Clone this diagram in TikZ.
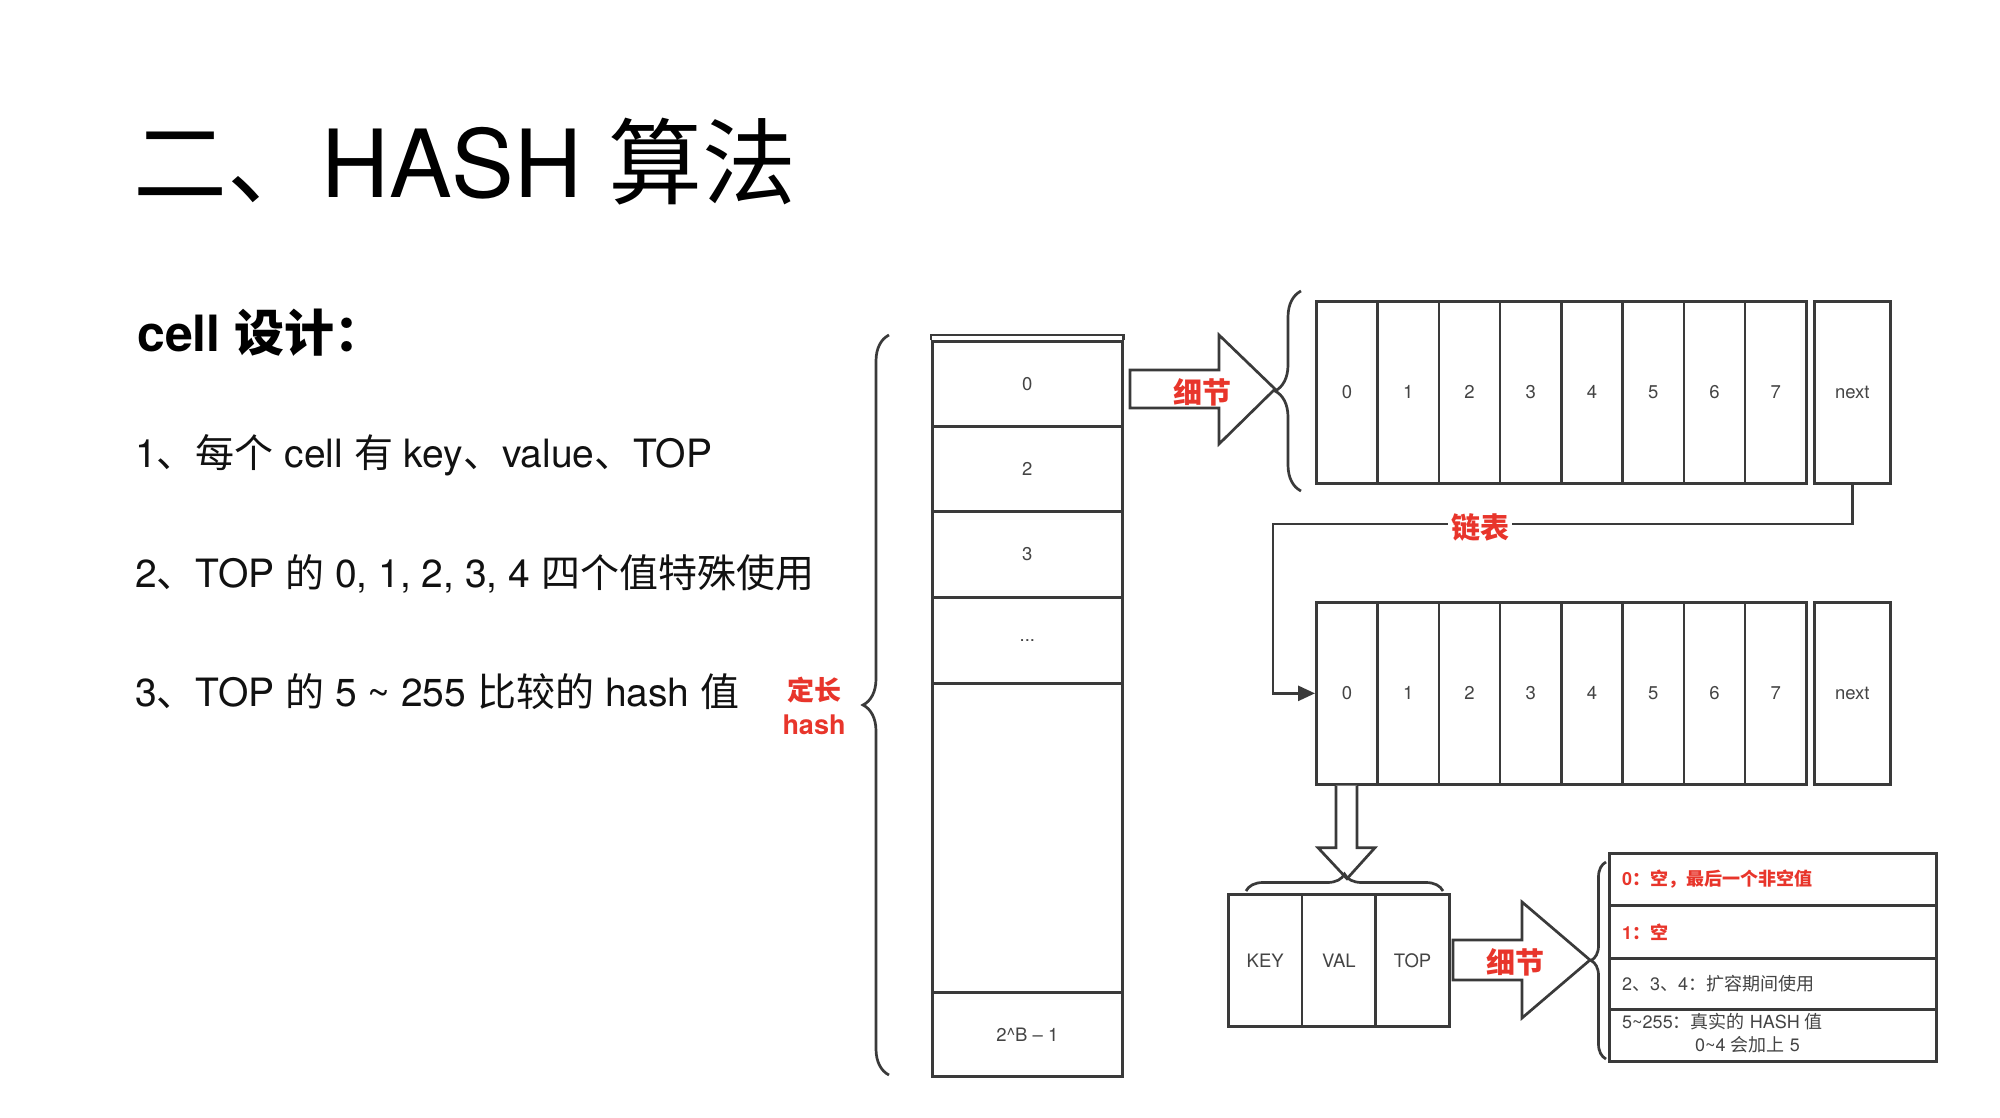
\documentclass[tikz,border=0pt]{standalone}
\usepackage{fontspec}
\setmainfont{TeX Gyre Heros}
\newfontfamily\cjk{Noto Sans CJK SC}
\usetikzlibrary{arrows.meta,decorations.pathreplacing,calc}
\definecolor{linec}{HTML}{3A3A3A}
\definecolor{txtc}{HTML}{444444}
\definecolor{redc}{HTML}{E8352B}
\definecolor{inkc}{HTML}{111111}
\newcommand\cellfont{\fontsize{18.5}{20}\selectfont}
\newcommand\lblfont{\fontsize{29}{32}\selectfont\bfseries\cjk}
\newcommand\rowfont{\fontsize{18}{22}\selectfont}

\begin{document}
\begin{tikzpicture}[x=1pt,y=-1pt,
  ln/.style={draw=linec,line width=2.7pt},
  boxcell/.style={ln,fill=white,anchor=north west,inner sep=0pt,
    minimum width=61.25pt,minimum height=182pt,text=txtc,font=\cellfont},
  colrow/.style={ln,fill=white,anchor=north west,inner sep=0pt,
    minimum width=190pt,text=txtc,font=\cellfont},
  kvcell/.style={ln,fill=white,anchor=north west,inner sep=0pt,
    minimum width=73.7pt,minimum height=132pt,text=txtc,font=\cellfont},
  tabrow/.style={ln,fill=white,anchor=north west,inner sep=0pt,
    minimum width=327pt},
  rowtxt/.style={anchor=west,inner sep=0pt,font=\rowfont,text=txtc},
  item/.style={anchor=west,inner sep=0pt,font=\fontsize{39}{43}\selectfont,text=inkc},
  fatarrow/.style={ln,fill=white,line join=miter},
  bracedeco/.style={draw=linec,line width=2.7pt,decorate},
  lbl/.style={text=redc,font=\lblfont,inner sep=3pt}
]
\fill[white] (0,0) rectangle (2000,1118);
\useasboundingbox (0,0) rectangle (2000,1118);

% heading and bullet text
\node[anchor=base west,inner sep=0pt,font=\fontsize{94}{100}\selectfont,text=black]
  (title) at (133,198) {{\cjk 二、}HASH {\cjk 算法}};
\node[anchor=base west,inner sep=0pt,font=\fontsize{50}{54}\selectfont\bfseries,text=black]
  (sub) at (137,351) {cell {\cjk 设计：}};
\node[item] (i1) at (135,455) {1{\cjk 、每个} cell {\cjk 有} key{\cjk 、}value{\cjk 、}TOP};
\node[item] (i2) at (135,574) {2{\cjk 、}TOP {\cjk 的} 0, 1, 2, 3, 4 {\cjk 四个值特殊使用}};
\node[item] (i3) at (135,692) {3{\cjk 、}TOP {\cjk 的} 5 \textasciitilde{} 255 {\cjk 比较的} hash {\cjk 值}};
\node[align=center,text=redc,font=\fontsize{27}{34}\selectfont\bfseries,inner sep=0pt]
  (fix) at (814,706) {{\cjk 定长}\\hash};

% bucket column
\node[colrow,minimum height=85pt] (r0) at (931,340) {0};
\node[colrow,minimum height=85pt] (r1) at (931,425) {2};
\node[colrow,minimum height=86pt] (r2) at (931,510) {3};
\node[colrow,minimum height=86pt] (r3) at (931,596) {...};
\node[colrow,minimum height=309pt] (r4) at (931,682) {};
\node[colrow,minimum height=84pt] (r5) at (931,991) {2\textasciicircum B – 1};
\draw[ln] (r0.north west) -- ++(0,-5) -- ($(r0.north east)+(0,-5)$) -- (r0.north east);
\draw[bracedeco,decoration={brace,amplitude=26pt}] (889,1075) -- (889,335);

% first bucket detail
\draw[fatarrow] (1130,370) -- (1219,370) -- (1219,335) -- (1275,389)
  -- (1219,444) -- (1219,408) -- (1130,408) -- cycle;
\node[lbl] (d1) at (1202,392) {细节};
\draw[bracedeco,decoration={brace,amplitude=26pt}] (1301,491) -- (1301,291);
\foreach \i in {0,...,7}
  \node[boxcell] (a\i) at ({1315+61.25*\i},300) {\i};
\node[boxcell,minimum width=76pt] (n1) at (1813,300) {next};

% chained bucket
\foreach \i in {0,...,7}
  \node[boxcell] (b\i) at ({1315+61.25*\i},601) {\i};
\node[boxcell,minimum width=76pt] (n2) at (1813,601) {next};
\coordinate (lk) at (1273,524);
\draw[ln,-{Triangle[length=17pt,width=15pt]}] (n1.south) |- (lk) |- (b0.west);
\node[lbl,fill=white] (chain) at (1480,527) {链表};

% slot expansion
\draw[fatarrow] ($(b0.south)+(-11,0)$) -- ++(0,62) -- ++(-18,0) -- ($(b0.south)+(0,93)$)
  -- ($(b0.south)+(28,62)$) -- ($(b0.south)+(10,62)$) -- ($(b0.south)+(10,0)$);
\draw[bracedeco,decoration={brace,amplitude=17pt}] (1246,891) -- (1443,891);
\node[kvcell] (kk) at (1227,893) {KEY};
\node[kvcell] (kv) at (1300.7,893) {VAL};
\node[kvcell] (kt) at (1374.4,893) {TOP};

% TOP value meanings
\draw[fatarrow] (1453,940) -- (1522,940) -- (1522,902) -- (1590,960)
  -- (1522,1018) -- (1522,980) -- (1453,980) -- cycle;
\node[lbl] (d2) at (1515,962) {细节};
\draw[bracedeco,decoration={brace,amplitude=15pt}] (1606,1059) -- (1606,862);
\node[tabrow,minimum height=52pt] (t0) at (1608,852) {};
\node[tabrow,minimum height=53pt] (t1) at (1608,904) {};
\node[tabrow,minimum height=51pt] (t2) at (1608,957) {};
\node[tabrow,minimum height=52pt] (t3) at (1608,1008) {};
\node[rowtxt,text=redc,font=\rowfont\bfseries] (v0) at ($(t0.west)+(14,0)$) {0{\cjk ：空，最后一个非空值}};
\node[rowtxt,text=redc,font=\rowfont\bfseries] (v1) at ($(t1.west)+(14,0)$) {1{\cjk ：空}};
\node[rowtxt] (v2) at ($(t2.west)+(14,0)$) {2{\cjk 、}3{\cjk 、}4{\cjk ：扩容期间使用}};
\node[rowtxt] (v3) at (1622,1022) {5\textasciitilde 255{\cjk ：真实的} HASH {\cjk 值}};
\node[rowtxt] (v4) at (1695,1045) {0\textasciitilde 4 {\cjk 会加上} 5};
\end{tikzpicture}
\end{document}
